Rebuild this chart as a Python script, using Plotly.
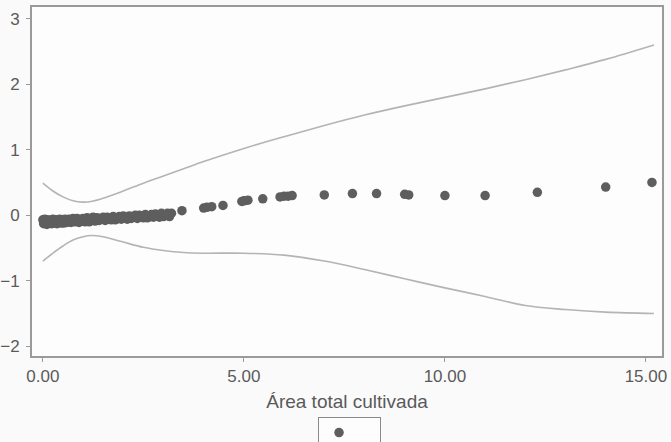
import plotly.graph_objects as go

# Scatter points (Área total cultivada vs partial residual)
pts_x = [0.0, 0.02, 0.05, 0.08, 0.1, 0.12, 0.15, 0.2, 0.22, 0.25, 0.3, 0.33, 0.35, 0.4, 0.42, 0.45,
         0.5, 0.52, 0.55, 0.6, 0.65, 0.7, 0.75, 0.8, 0.85, 0.9, 0.95, 1.0, 1.05, 1.1, 1.15, 1.2,
         1.25, 1.3, 1.35, 1.4, 1.5, 1.55, 1.6, 1.7, 1.75, 1.8, 1.9, 1.95, 2.0, 2.1, 2.15, 2.2,
         2.3, 2.35, 2.4, 2.5, 2.55, 2.6, 2.7, 2.75, 2.8, 2.9, 2.95, 3.0, 3.1, 3.15, 3.2,
         3.46, 4.0, 4.08, 4.2, 4.48, 4.95, 5.0, 5.1, 5.47, 5.9, 6.0, 6.1, 6.2,
         7.0, 7.7, 8.3, 9.0, 9.1, 10.0, 11.0, 12.3, 14.0, 15.15]
pts_y = [-0.07, -0.13, -0.06, -0.12, -0.14, -0.07, -0.12, -0.08, -0.13, -0.06, -0.12, -0.07, -0.13, -0.08, -0.06, -0.12,
         -0.07, -0.12, -0.06, -0.11, -0.06, -0.11, -0.05, -0.10, -0.05, -0.11, -0.06, -0.05, -0.10, -0.04, -0.10, -0.05,
         -0.03, -0.09, -0.04, -0.08, -0.03, -0.08, -0.03, -0.07, -0.02, -0.07, -0.02, -0.06, -0.01, -0.06, -0.01, -0.05,
         0.00, -0.05, 0.00, -0.04, 0.01, -0.04, 0.01, -0.03, 0.02, -0.03, 0.03, -0.02, 0.03, -0.02, 0.03,
         0.07, 0.11, 0.12, 0.13, 0.15, 0.21, 0.22, 0.23, 0.25, 0.28, 0.29, 0.29, 0.30,
         0.31, 0.33, 0.33, 0.32, 0.31, 0.30, 0.30, 0.35, 0.43, 0.50]

# Confidence band curves
band_x = [0.0, 0.25, 0.5, 0.75, 1.0, 1.2, 1.5, 2.0, 2.5, 3.0, 3.5, 4.0, 5.0, 6.0, 7.0, 8.0,
          9.0, 10.0, 11.0, 12.0, 13.0, 14.0, 15.2]
upper_y = [0.49, 0.37, 0.28, 0.22, 0.20, 0.21, 0.26, 0.37, 0.49, 0.60, 0.71, 0.82, 1.02, 1.20, 1.37, 1.53,
           1.67, 1.80, 1.93, 2.07, 2.22, 2.38, 2.60]
lower_y = [-0.70, -0.58, -0.47, -0.38, -0.33, -0.31, -0.33, -0.41, -0.49, -0.54, -0.57, -0.58, -0.58, -0.61, -0.70, -0.83,
           -0.97, -1.11, -1.24, -1.38, -1.44, -1.48, -1.50]

xtick_vals = [0, 5, 10, 15]
xtick_text = ["0.00", "5.00", "10.00", "15.00"]
ytick_vals = [-2, -1, 0, 1, 2, 3]

line_col = "#b4b4b4"
axis_col = "#9a9a9a"
txt_col = "#5a5a5a"

fig = go.Figure()
fig.add_trace(go.Scatter(x=band_x, y=upper_y, mode="lines", line=dict(color=line_col, width=1.6, shape="spline"),
                         showlegend=False, hoverinfo="skip"))
fig.add_trace(go.Scatter(x=band_x, y=lower_y, mode="lines", line=dict(color=line_col, width=1.6, shape="spline"),
                         showlegend=False, hoverinfo="skip"))
fig.add_trace(go.Scatter(x=pts_x, y=pts_y, mode="markers",
                         marker=dict(color="#5e5e5e", size=9.5),
                         name="\u00a0" * 5, showlegend=True))

fig.update_layout(
    width=671, height=442,
    margin=dict(l=32, r=9, t=7, b=86, autoexpand=False),
    paper_bgcolor="#fafafa", plot_bgcolor="#fdfdfd",
    font=dict(family="Liberation Sans, Arial", size=17, color=txt_col),
    showlegend=True,
    legend=dict(orientation="h", x=0.454, xanchor="left", y=-0.175, yanchor="top",
                bordercolor="#8a8a8a", borderwidth=1, bgcolor="#fdfdfd",
                font=dict(size=11), itemwidth=30),
    xaxis=dict(range=[-0.27, 15.4], tickvals=xtick_vals, ticktext=xtick_text,
               showgrid=False, zeroline=False, showline=True, linecolor=axis_col, linewidth=2,
               mirror=True, ticks="outside", ticklen=4, tickcolor=axis_col,
               tickfont=dict(size=17, color=txt_col),
               title=dict(text="Área total cultivada", standoff=9, font=dict(size=19, color=txt_col))),
    yaxis=dict(range=[-2.15, 3.18], tickvals=ytick_vals,
               showgrid=False, zeroline=False, showline=True, linecolor=axis_col, linewidth=2,
               mirror=True, ticks="outside", ticklen=4, tickcolor=axis_col,
               tickfont=dict(size=17, color=txt_col), ticklabelstandoff=3),
)

fig.write_html("out.html")
